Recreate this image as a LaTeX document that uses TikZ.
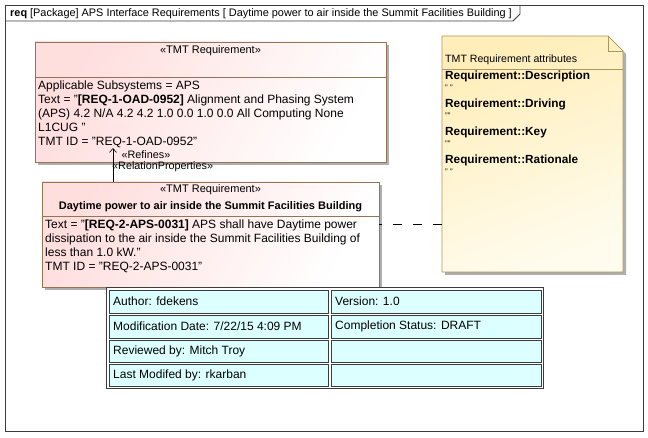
\documentclass[tikz,border=0pt]{standalone}
\usepackage{fontspec}
\setmainfont{Liberation Sans}
\usetikzlibrary{arrows.meta}
\definecolor{reqborder}{RGB}{150,115,85}
\definecolor{reqpink}{RGB}{255,222,222}
\definecolor{notebord}{RGB}{170,150,95}
\definecolor{noteyel}{RGB}{255,238,185}
\definecolor{notepale}{RGB}{255,252,238}
\definecolor{cellfill}{RGB}{220,255,255}
\definecolor{framecol}{RGB}{60,60,60}
\definecolor{shadowcol}{RGB}{175,175,175}
\tikzset{
  txt/.style={inner sep=0pt, anchor=north west, align=left, font=\fontsize{12}{14}\selectfont},
  ctxt/.style={inner sep=0pt, font=\fontsize{11}{14}\selectfont},
  reqbox/.style={draw=reqborder, line width=0.7pt, left color=reqpink, right color=white, shading angle=60},
  cell/.style={draw=framecol, line width=0.7pt, fill=cellfill},
  celltxt/.style={inner sep=0pt, anchor=west, font=\fontsize{12}{14}\selectfont},
  notetxt/.style={inner sep=0pt, anchor=west, font=\fontsize{11.8}{13}\selectfont\bfseries},
  quotetxt/.style={inner sep=0pt, anchor=west, font=\fontsize{8}{9}\selectfont},
}
\begin{document}
\begin{tikzpicture}[x=1pt,y=-1pt]
\useasboundingbox (0,0) rectangle (648,438);
\fill[white] (0,0) rectangle (648,438);
% frame
\draw[framecol, line width=0.8pt] (5,5) rectangle (643,431);
\draw[framecol, line width=0.8pt] (5,21) -- (513,21) -- (520,14) -- (520,5);
\node[inner sep=0pt, anchor=west, font=\fontsize{10.9}{12}\selectfont] (title) at (10,13.5) {\textbf{req} [Package] APS Interface Requirements [ Daytime power to air inside the Summit Facilities Building ]};

% upper requirement box
\fill[shadowcol] (38,45) rectangle (389,165);
\fill[reqbox, draw=none] (35,42) rectangle (386,162);
\draw[reqborder, line width=0.7pt] (35,42) rectangle (386,162);
\draw[reqborder, line width=0.7pt] (35,77) -- (386,77);
\node[ctxt] (st1) at (210.5,51) {«TMT Requirement»};
\node[txt] (body1) at (38,80.5) {Applicable Subsystems = APS\\
Text = "\textbf{[REQ-1-OAD-0952]} Alignment and Phasing System\\
(APS) 4.2 N/A 4.2 4.2 1.0 0.0 1.0 0.0 All Computing None\\
L1CUG "\\
TMT ID = "REQ-1-OAD-0952"};

% lower requirement box
\fill[shadowcol] (45,185) rectangle (382,290);
\fill[reqbox, draw=none] (42,182) rectangle (379,287);
\draw[reqborder, line width=0.7pt] (42,182) rectangle (379,287);
\draw[reqborder, line width=0.7pt] (42,216) -- (379,216);
\node[ctxt] (st2) at (210.5,190) {«TMT Requirement»};
\node[ctxt, font=\fontsize{11}{14}\selectfont\bfseries] (name2) at (210.5,207) {Daytime power to air inside the Summit Facilities Building};
\node[txt] (body2) at (45,219.5) {Text = "\textbf{[REQ-2-APS-0031]} APS shall have Daytime power\\
dissipation to the air inside the Summit Facilities Building of\\
less than 1.0 kW."\\
TMT ID = "REQ-2-APS-0031"};

% refine arrow
\coordinate (rtail) at (113,182);
\coordinate (rhead) at (113,148);
\draw[line width=0.6pt, -{Straight Barb[length=4pt,width=7pt]}] (rtail) -- (rhead);
\node[ctxt, font=\fontsize{10.8}{12}\selectfont] (refl) at (146,155) {«Refines»};
\node[ctxt, font=\fontsize{10.8}{12}\selectfont, anchor=west] (rpl) at (112,167) {«RelationProperties»};

% note
\fill[shadowcol] (445,39) -- (611,39) -- (626,54) -- (626,275) -- (445,275) -- cycle;
\shade[top color=noteyel, bottom color=notepale, shading angle=20] (442,36) -- (608,36) -- (623,51) -- (623,272) -- (442,272) -- cycle;
\draw[notebord, line width=0.7pt] (442,36) -- (608,36) -- (623,51) -- (623,272) -- (442,272) -- cycle;
\draw[notebord, line width=0.7pt] (608,36) -- (608,51) -- (623,51);
\draw[notebord, line width=0.7pt] (442,69) -- (623,69);
\node[inner sep=0pt, anchor=west, font=\fontsize{10.6}{12}\selectfont] (nt) at (445,59.5) {TMT Requirement attributes};
\node[notetxt] (d1) at (445,76) {Requirement::Description};
\node[quotetxt] (q1) at (445,87.5) {" "};
\node[notetxt] (d2) at (445,104) {Requirement::Driving};
\node[quotetxt] (q2) at (445,115.5) {""};
\node[notetxt] (d3) at (445,132) {Requirement::Key};
\node[quotetxt] (q3) at (445,143.5) {""};
\node[notetxt] (d4) at (445,160) {Requirement::Rationale};
\node[quotetxt] (q4) at (445,171.5) {" "};

% dashed anchor line
\coordinate (dl) at (379,224.5);
\coordinate (dr) at (442,224.5);
\draw[black, line width=0.7pt, dash pattern=on 9pt off 11pt] (dr) -- (dl);

% table
\draw[framecol, line width=0.7pt, fill=white] (106,287) rectangle (543,388);
\draw[cell] (109,290) rectangle (328,313);
\draw[cell] (331,290) rectangle (541,313);
\draw[cell] (109,315) rectangle (328,338);
\draw[cell] (331,315) rectangle (541,338);
\draw[cell] (109,340) rectangle (328,362);
\draw[cell] (331,340) rectangle (541,362);
\draw[cell] (109,364) rectangle (328,386);
\draw[cell] (331,364) rectangle (541,386);
\node[celltxt] (c1) at (113,301.5) {Author: fdekens};
\node[celltxt] (c2) at (335,301.5) {Version: 1.0};
\node[celltxt] (c3) at (113,326.5) {Modification Date: 7/22/15 4:09 PM};
\node[celltxt] (c4) at (335,326.5) {Completion Status: DRAFT};
\node[celltxt] (c5) at (113,351) {Reviewed by: Mitch Troy};
\node[celltxt] (c6) at (113,375) {Last Modifed by: rkarban};
\end{tikzpicture}
\end{document}
